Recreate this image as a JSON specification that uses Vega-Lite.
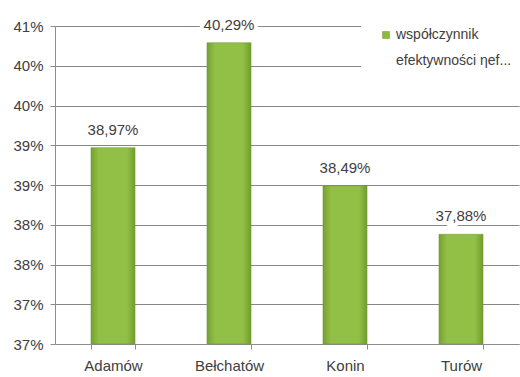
{
  "$schema": "https://vega.github.io/schema/vega-lite/v6.json",
  "width": 464,
  "height": 318,
  "autosize": {"type": "none"},
  "padding": {"left": 55, "top": 26, "right": 1, "bottom": 33},
  "background": "white",
  "config": {
    "view": {"stroke": null},
    "font": "Liberation Sans",
    "style": {"guide-label": {"lineHeight": 26}}
  },
  "data": {
    "values": [
      {"plant": "Adamów", "value": 38.97, "label": "38,97%", "series": "współczynnik efektywności ηef..."},
      {"plant": "Bełchatów", "value": 40.29, "label": "40,29%", "series": "współczynnik efektywności ηef..."},
      {"plant": "Konin", "value": 38.49, "label": "38,49%", "series": "współczynnik efektywności ηef..."},
      {"plant": "Turów", "value": 37.88, "label": "37,88%", "series": "współczynnik efektywności ηef..."}
    ]
  },
  "encoding": {
    "x": {
      "field": "plant",
      "type": "nominal",
      "sort": null,
      "scale": {"paddingInner": 0.62, "paddingOuter": 0.31},
      "axis": {
        "title": null,
        "labelAngle": 0,
        "labelFontSize": 15,
        "labelColor": "#404040",
        "labelPadding": 9,
        "tickBand": "extent",
        "tickSize": 5,
        "tickColor": "#8c8c8c",
        "domainColor": "#8c8c8c",
        "grid": false
      }
    },
    "y": {
      "field": "value",
      "type": "quantitative",
      "scale": {"domain": [36.5, 40.5], "nice": false, "zero": false},
      "axis": {
        "title": null,
        "values": [36.5, 37, 37.5, 38, 38.5, 39, 39.5, 40, 40.5],
        "labelExpr": "format(datum.value, '.0f') + '%'",
        "labelFontSize": 15,
        "labelColor": "#404040",
        "labelPadding": 7,
        "tickSize": 5,
        "tickColor": "#8c8c8c",
        "domainColor": "#8c8c8c",
        "gridColor": "#868686",
        "gridWidth": 1.2
      }
    }
  },
  "layer": [
    {
      "mark": {
        "type": "bar",
        "stroke": "#6f962c",
        "strokeWidth": 0.5,
        "color": {
          "gradient": "linear",
          "x1": 0, "x2": 1, "y1": 0, "y2": 0,
          "stops": [
            {"offset": 0, "color": "#76a032"},
            {"offset": 0.18, "color": "#92bf45"},
            {"offset": 0.82, "color": "#92bf45"},
            {"offset": 1, "color": "#729c30"}
          ]
        }
      },
      "encoding": {"y2": {"datum": 36.5}}
    },
    {
      "mark": {"type": "text", "baseline": "bottom", "dy": -10, "fontSize": 15, "stroke": "white", "strokeWidth": 8, "color": "white"},
      "encoding": {"text": {"field": "label"}}
    },
    {
      "mark": {"type": "text", "baseline": "bottom", "dy": -10, "fontSize": 15, "color": "#404040"},
      "encoding": {"text": {"field": "label"}}
    },
    {
      "mark": {"type": "point", "shape": "square", "filled": true, "size": 0},
      "encoding": {
        "color": {
          "field": "series",
          "type": "nominal",
          "scale": {"range": ["#8cb940"]},
          "legend": {
            "title": null,
            "orient": "none",
            "legendX": 306,
            "legendY": -16,
            "padding": 18,
            "fillColor": "white",
            "symbolSize": 49,
            "symbolOpacity": 1,
            "symbolType": "square",
            "symbolStrokeColor": "#6f962c",
            "symbolStrokeWidth": 0.5,
            "labelFontSize": 14,
            "labelColor": "#404040",
            "labelOffset": 3,
            "labelLimit": 300,
            "labelExpr": "['współczynnik', 'efektywności ηef...']"
          }
        }
      }
    }
  ]
}
